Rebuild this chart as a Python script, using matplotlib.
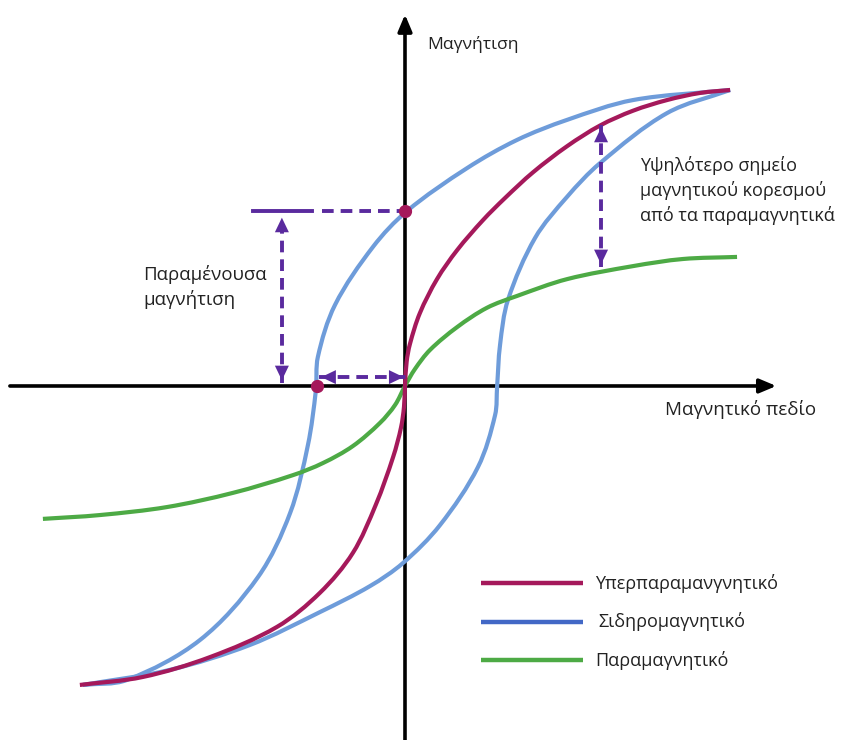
import matplotlib
matplotlib.use("Agg")
import numpy as np
import matplotlib.pyplot as plt
from matplotlib.patches import FancyArrowPatch, PathPatch
from matplotlib.path import Path

# ---------------- data (field H, magnetisation M, normalised units) ----------------
super_H = [-0.985, -0.794, -0.591, -0.388, -0.258, -0.158, -0.088, -0.036, -0.012, -0.003, 0.0,
           0.005, 0.015, 0.045, 0.097, 0.158, 0.236, 0.303, 0.388, 0.491, 0.591, 0.691,
           0.794, 0.894, 0.985]
super_M = [-1.01, -0.983, -0.916, -0.814, -0.699, -0.564, -0.400, -0.240, -0.140, -0.070, 0.0,
           0.082, 0.142, 0.246, 0.361, 0.459, 0.560, 0.635, 0.722, 0.810, 0.880, 0.930,
           0.966, 0.990, 1.0]

ferro_down_H = [0.985, 0.691, 0.491, 0.339, 0.188, 0.006, -0.097, -0.212, -0.264, -0.270,
                -0.294, -0.348, -0.445, -0.621, -0.842, -0.976]
ferro_down_M = [1.0, 0.966, 0.899, 0.831, 0.736, 0.591, 0.470, 0.274, 0.098, -0.014,
                -0.199, -0.429, -0.645, -0.858, -0.993, -1.01]

ferro_up_H = [-0.976, -0.712, -0.470, -0.258, -0.106, -0.006, 0.106, 0.221, 0.273,
              0.279, 0.288, 0.312, 0.394, 0.491, 0.591, 0.794, 0.985]
ferro_up_M = [-1.01, -0.959, -0.875, -0.764, -0.676, -0.598, -0.470, -0.274, -0.098,
              -0.003, 0.139, 0.291, 0.500, 0.639, 0.753, 0.922, 1.0]

para_H = [-1.097, -0.924, -0.721, -0.521, -0.339, -0.248, -0.158, -0.076, -0.030, 0.0,
          0.030, 0.076, 0.158, 0.248, 0.339, 0.491, 0.691, 0.842, 1.006]
para_M = [-0.449, -0.436, -0.409, -0.361, -0.301, -0.260, -0.203, -0.125, -0.064, 0.0,
          0.057, 0.122, 0.199, 0.264, 0.304, 0.361, 0.405, 0.429, 0.436]

remanence_M = 0.592
coercive_H = -0.267

legend_labels = ["Υπερπαραμανγνητικό", "Σιδηρομαγνητικό", "Παραμαγνητικό"]

# ---------------- style ----------------
RED = "#A5195B"
BLUE = "#6E9CDA"
BLUE_LEG = "#4268C6"
GREEN = "#4DAA45"
PURPLE = "#5A2A9E"
TXT = "#222222"
plt.rcParams["font.family"] = ["Open Sans", "DejaVu Sans"]

fig = plt.figure(figsize=(8.43, 7.40), dpi=100)
ax = fig.add_axes([0, 0, 1, 1])
ax.set_xlim(-1.227, 1.327)
ax.set_ylim(-1.196, 1.304)
ax.axis("off")


def smooth_curve(xs, ys, color, lw, z):
    """Draw the read points as a smooth curve (cubic Bezier through each point)."""
    p = np.column_stack([xs, ys]).astype(float)
    sc = np.array([330.0, 296.0])
    q = p * sc
    d = np.linalg.norm(np.diff(q, axis=0), axis=1)
    n = len(p)
    m = np.zeros_like(q)
    m[0] = (q[1] - q[0]) / d[0]
    m[-1] = (q[-1] - q[-2]) / d[-1]
    for i in range(1, n - 1):
        m[i] = (q[i + 1] - q[i - 1]) / (d[i - 1] + d[i])
    verts = [q[0]]
    codes = [Path.MOVETO]
    for i in range(n - 1):
        verts += [q[i] + m[i] * d[i] / 3, q[i + 1] - m[i + 1] * d[i] / 3, q[i + 1]]
        codes += [Path.CURVE4] * 3
    verts = np.array(verts) / sc
    ax.add_patch(PathPatch(Path(verts, codes), fill=False, ec=color, lw=lw,
                           capstyle="butt", zorder=z))


# axes with arrows
for xy, xyt in (((1.125, 0), (-1.197, 0)), ((0, 1.255), (0, -1.2))):
    ax.annotate("", xy=xy, xytext=xyt,
                arrowprops=dict(arrowstyle="-|>,head_length=1.0,head_width=0.42",
                                lw=2.6, color="black", shrinkA=0, shrinkB=0), zorder=2)

lw = 3.0
smooth_curve(ferro_down_H, ferro_down_M, BLUE, lw, 3)
smooth_curve(ferro_up_H, ferro_up_M, BLUE, lw, 3)
smooth_curve(para_H, para_M, GREEN, lw, 4)
smooth_curve(super_H, super_M, RED, lw, 5)

dash = (0, (3.0, 1.8))


def dbl_arrow(p0, p1):
    ax.plot([p0[0], p1[0]], [p0[1], p1[1]], color=PURPLE, lw=2.8, ls=dash, zorder=6)
    for a, b in ((p0, p1), (p1, p0)):
        start = (a[0] + (b[0] - a[0]) * 0.12, a[1] + (b[1] - a[1]) * 0.12)
        arr = FancyArrowPatch(posA=start, posB=a,
                              arrowstyle="-|>,head_length=5,head_width=2.4",
                              mutation_scale=2.1, lw=0, color=PURPLE, zorder=7)
        ax.add_patch(arr)


# remanence
ax.plot([-0.461, -0.282], [remanence_M, remanence_M], color=PURPLE, lw=2.8, zorder=6)
ax.plot([-0.250, -0.015], [remanence_M, remanence_M], color=PURPLE, lw=2.8, ls=dash, zorder=6)
dbl_arrow((-0.373, 0.010), (-0.373, 0.578))
# coercivity
dbl_arrow((-0.262, 0.030), (0.004, 0.030))
# saturation difference
dbl_arrow((0.594, 0.402), (0.594, 0.882))

ax.plot([0, coercive_H], [remanence_M, 0], "o", color=RED, ms=8.5, zorder=8)

# texts
fs = 13
ax.text(0.067, 1.152, "Μαγνήτιση", fontsize=12.6, va="center", ha="left", color=TXT)
ax.text(0.788, -0.081, "Μαγνητικό πεδίο", fontsize=13.5, va="center", ha="left", color=TXT)
ax.text(0.712, 0.662, "Υψηλότερο σημείο\nμαγνητικού κορεσμού\nαπό τα παραμαγνητικά",
        fontsize=fs, va="center", ha="left", linespacing=1.4, color=TXT)
ax.text(-0.794, 0.333, "Παραμένουσα\nμαγνήτιση", fontsize=13.4, va="center", ha="left",
        linespacing=1.4, color=TXT)

# legend
leg_M = [-0.666, -0.797, -0.926]
leg_cols = [RED, BLUE_LEG, GREEN]
leg_tx = [0.576, 0.585, 0.576]
for mm, c, lab, tx in zip(leg_M, leg_cols, legend_labels, leg_tx):
    ax.plot([0.230, 0.539], [mm, mm], color=c, lw=3.2, solid_capstyle="butt")
    ax.text(tx, mm, lab, fontsize=fs, va="center", ha="left", color=TXT)

fig.savefig("out.png", dpi=100)
